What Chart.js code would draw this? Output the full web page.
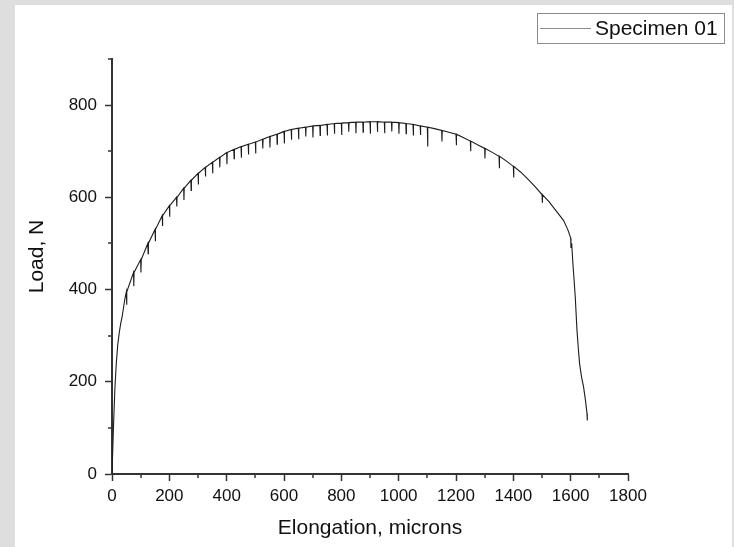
<!DOCTYPE html>
<html>
<head>
<meta charset="utf-8">
<title>Specimen 01</title>
<script src="https://cdn.jsdelivr.net/npm/chart.js@4.4.1/dist/chart.umd.min.js"></script>
<style>
  html, body { margin: 0; padding: 0; }
  body { width: 734px; height: 547px; background: #dedede; overflow: hidden; position: relative; }
  .panel { position: absolute; left: 15px; top: 5px; width: 717px; height: 542px; background: #fff; }
</style>
</head>
<body>
<div class="panel"><canvas id="loadChart" width="717" height="542"></canvas></div>
<script>
// load vs elongation (spikes are the small load drops)
const elongation = [
  0, 5, 10, 15, 20, 25, 30, 35, 40, 45,
  50, 51, 52, 75, 76, 77, 100, 101, 102, 125, 126, 127,
  150, 151, 152, 175, 176, 177, 200, 201, 202, 225, 226, 227,
  250, 251, 252, 275, 276, 277, 300, 301, 302, 325, 326, 327,
  350, 351, 352, 375, 376, 377, 400, 401, 402, 425, 426, 427,
  450, 451, 452, 475, 476, 477, 500, 501, 502, 525, 526, 527,
  550, 551, 552, 575, 576, 577, 600, 601, 602, 625, 626, 627,
  650, 651, 652, 675, 676, 677, 700, 701, 702, 725, 726, 727,
  750, 751, 752, 775, 776, 777, 800, 801, 802, 825, 826, 827,
  850, 851, 852, 875, 876, 877, 900, 901, 902, 925, 926, 927,
  950, 951, 952, 975, 976, 977, 1000, 1001, 1002, 1025, 1026, 1027,
  1050, 1051, 1052, 1075, 1076, 1077, 1100, 1101, 1102, 1125,
  1150, 1151, 1152, 1175, 1200, 1201, 1202, 1225,
  1250, 1251, 1252, 1275, 1300, 1301, 1302, 1325,
  1350, 1351, 1352, 1375, 1400, 1401, 1402, 1425, 1450, 1475,
  1500, 1501, 1502, 1525, 1550, 1575, 1590,
  1600, 1601, 1602, 1604, 1608, 1612, 1616, 1622, 1627, 1631,
  1638, 1645, 1652, 1657, 1658
];
const load = [
  0, 100, 185, 240, 280, 305, 325, 340, 360, 380,
  395, 367, 395, 437, 407, 437, 465, 437, 465, 500, 478, 500,
  530, 505, 530, 560, 538, 560, 582, 558, 582, 600, 580, 600,
  620, 594, 620, 637, 615, 637, 652, 628, 652, 665, 645, 665,
  676, 652, 676, 687, 665, 687, 697, 672, 697, 704, 684, 704,
  710, 686, 710, 715, 693, 715, 720, 695, 720, 726, 706, 726,
  732, 708, 732, 737, 715, 737, 743, 717, 743, 747, 725, 747,
  750, 726, 750, 752, 732, 752, 755, 730, 755, 756, 734, 756,
  758, 734, 758, 760, 738, 760, 761, 735, 761, 762, 742, 762,
  763, 739, 763, 763, 741, 763, 764, 738, 764, 764, 742, 764,
  763, 739, 763, 763, 743, 763, 762, 738, 762, 760, 738, 760,
  758, 734, 758, 755, 735, 755, 752, 710, 752, 749,
  745, 721, 745, 741, 737, 713, 737, 730,
  722, 700, 722, 714, 706, 684, 706, 698,
  689, 663, 689, 679, 667, 643, 667, 655, 640, 624,
  606, 588, 606, 590, 570, 550, 530,
  512, 490, 500, 495, 455, 420, 384, 312, 270, 240,
  210, 189, 158, 131, 116
];

const xTickLabels = [0, 200, 400, 600, 800, 1000, 1200, 1400, 1600, 1800];
const yTickLabels = [0, 200, 400, 600, 800];

const fontFamily = "'Liberation Sans', Arial, sans-serif";
const axisColor = "#333";
const textColor = "#111";

const points = elongation.map((x, i) => ({ x: x, y: load[i] }));

// short unlabelled ticks every 100
const minorTicks = {
  id: "minorTicks",
  afterDraw(chart) {
    const { ctx } = chart;
    const xScale = chart.scales.x;
    const yScale = chart.scales.y;
    ctx.save();
    ctx.strokeStyle = axisColor;
    ctx.lineWidth = 1.5;
    ctx.beginPath();
    xScale.ticks.forEach((t) => {
      if (xTickLabels.includes(t.value)) return;
      const px = Math.round(xScale.getPixelForValue(t.value));
      ctx.moveTo(px, xScale.top);
      ctx.lineTo(px, xScale.top + 4);
    });
    yScale.ticks.forEach((t) => {
      if (yTickLabels.includes(t.value)) return;
      const py = Math.round(yScale.getPixelForValue(t.value));
      ctx.moveTo(yScale.right, py);
      ctx.lineTo(yScale.right - 4, py);
    });
    ctx.stroke();
    ctx.restore();
  },
};

// y title sits a little above the middle of the axis in the original
const yTitle = {
  id: "yTitle",
  afterDraw(chart) {
    const { ctx } = chart;
    ctx.save();
    ctx.translate(22.5, 251.5);
    ctx.rotate(-Math.PI / 2);
    ctx.fillStyle = textColor;
    ctx.font = "21px " + fontFamily;
    ctx.textAlign = "center";
    ctx.textBaseline = "middle";
    ctx.fillText("Load, N", 0, 0);
    ctx.restore();
  },
};

// boxed legend in the top right corner
const legendBox = {
  id: "legendBox",
  afterDraw(chart) {
    const { ctx } = chart;
    const ds = chart.data.datasets[0];
    ctx.save();
    ctx.strokeStyle = "#8c8c8c";
    ctx.lineWidth = 1;
    ctx.strokeRect(522.5, 8.5, 187, 30);
    ctx.beginPath();
    ctx.moveTo(525, 23.5);
    ctx.lineTo(576, 23.5);
    ctx.stroke();
    ctx.fillStyle = textColor;
    ctx.font = "21px " + fontFamily;
    ctx.textBaseline = "middle";
    ctx.textAlign = "left";
    ctx.fillText(ds.label, 580, 24);
    ctx.restore();
  },
};

new Chart(document.getElementById("loadChart"), {
  type: "scatter",
  data: {
    datasets: [
      {
        label: "Specimen 01",
        data: points,
        showLine: true,
        borderColor: "#1c1c1c",
        borderWidth: 1.1,
        pointRadius: 0,
        tension: 0,
      },
    ],
  },
  options: {
    responsive: false,
    animation: false,
    layout: {
      padding: { left: 10, top: 54, right: 104, bottom: 6 },
    },
    plugins: {
      legend: { display: false },
      tooltip: { enabled: false },
    },
    scales: {
      x: {
        type: "linear",
        min: 0,
        max: 1800,
        afterFit: (s) => {
          s.height = 67;
        },
        border: { display: true, color: axisColor, width: 2 },
        grid: {
          drawOnChartArea: false,
          drawTicks: true,
          tickLength: 7,
          tickWidth: 1.5,
          tickColor: (c) =>
            c.tick && xTickLabels.includes(c.tick.value) ? axisColor : "rgba(0,0,0,0)",
        },
        ticks: {
          stepSize: 100,
          autoSkip: false,
          maxRotation: 0,
          padding: 5,
          color: textColor,
          font: { family: fontFamily, size: 17 },
          callback: (v) => (xTickLabels.includes(v) ? String(v) : ""),
        },
        title: {
          display: true,
          text: "Elongation, microns",
          color: textColor,
          font: { family: fontFamily, size: 21 },
          padding: 0,
        },
      },
      y: {
        type: "linear",
        min: 0,
        max: 900,
        afterFit: (s) => {
          s.width = 87;
        },
        border: { display: true, color: axisColor, width: 2 },
        grid: {
          drawOnChartArea: false,
          drawTicks: true,
          tickLength: 7,
          tickWidth: 1.5,
          tickColor: (c) =>
            c.tick && yTickLabels.includes(c.tick.value) ? axisColor : "rgba(0,0,0,0)",
        },
        ticks: {
          stepSize: 100,
          autoSkip: false,
          padding: 8,
          color: textColor,
          font: { family: fontFamily, size: 17 },
          callback: (v) => (yTickLabels.includes(v) ? String(v) : ""),
        },
      },
    },
  },
  plugins: [minorTicks, yTitle, legendBox],
});
</script>
</body>
</html>
